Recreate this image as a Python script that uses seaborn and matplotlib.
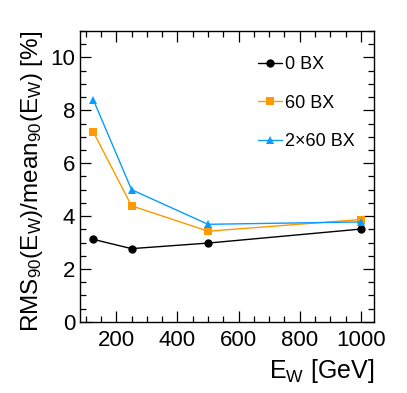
import numpy as np
import pandas as pd
import matplotlib
matplotlib.use("Agg")
import matplotlib.pyplot as plt
import seaborn as sns
from matplotlib.ticker import MultipleLocator

energies = [125, 250, 500, 1000]
bx0 = [3.12, 2.77, 2.98, 3.51]
bx60 = [7.18, 4.39, 3.43, 3.87]
bx2x60 = [8.40, 5.00, 3.69, 3.78]
labels = ["0 BX", "60 BX", "2\u00d760 BX"]

df = pd.DataFrame({
    "E": energies * 3,
    "res": bx0 + bx60 + bx2x60,
    "sample": [labels[0]] * 4 + [labels[1]] * 4 + [labels[2]] * 4,
})

sns.set_style("ticks", {"text.color": "black", "axes.labelcolor": "black",
                        "xtick.color": "black", "ytick.color": "black",
                        "axes.edgecolor": "black"})
plt.rcParams["font.family"] = ["Liberation Sans", "DejaVu Sans"]
plt.rcParams["mathtext.default"] = "regular"

fig = plt.figure(figsize=(4.07, 3.93), dpi=100)
ax = fig.add_axes([0.197, 0.181, 0.722, 0.740])

palette = {labels[0]: "black", labels[1]: "#ff9900", labels[2]: "#0a9bff"}
markers = {labels[0]: "o", labels[1]: "s", labels[2]: "^"}
sns.lineplot(data=df, x="E", y="res", hue="sample", style="sample",
             palette=palette, markers=markers, dashes=False,
             markersize=6, linewidth=1.0, markeredgewidth=0, ax=ax)

ax.set_xlim(82, 1043)
ax.set_ylim(0, 11)
ax.xaxis.set_major_locator(MultipleLocator(200))
ax.xaxis.set_minor_locator(MultipleLocator(50))
ax.yaxis.set_major_locator(MultipleLocator(2))
ax.yaxis.set_minor_locator(MultipleLocator(0.5))
ax.tick_params(which="both", direction="in", top=True, right=True, labelsize=16, width=0.9)
ax.tick_params(which="major", length=8)
ax.tick_params(which="minor", length=4)
ax.tick_params(axis="x", pad=6)
for s in ax.spines.values():
    s.set_linewidth(1.0)

ax.set_xlabel("E$_W$ [GeV]", fontsize=18, loc="right")
ax.set_ylabel("RMS$_{90}$(E$_W$)/mean$_{90}$(E$_W$) [%]", fontsize=17.5, loc="top")

ax.legend(loc="upper left", bbox_to_anchor=(0.55, 0.97), frameon=False,
          fontsize=13, handlelength=1.3, handletextpad=0.2, labelspacing=1.2,
          title=None)

fig.savefig("out.png", dpi=100)
